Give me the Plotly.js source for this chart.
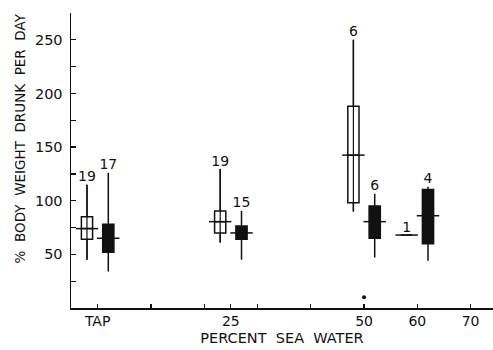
<!DOCTYPE html>
<html>
<head>
<meta charset="utf-8">
<script src="https://cdn.plot.ly/plotly-3.0.1.min.js"></script>
<style>html,body{margin:0;padding:0;background:#fff;}#chart{width:493px;height:350px;}</style>
</head>
<body>
<div id="chart"></div>
<script>
// Group positions on the "percent sea water" axis (TAP = 0)
const groupX = [0, 25, 50, 60];
const tickVals = [0, 10, 20, 25, 30, 40, 50, 60, 70];
const tickText = ['TAP', '', '', '25', '', '', '50', '60', '70'];
const yTickVals = [25, 50, 75, 100, 125, 150, 175, 200, 225, 250];
const yTickText = ['', '50', '', '100', '', '150', '', '200', '', '250'];

// Open boxes
const openN     = [19, 19, 6, 1];
const openLow   = [45, 61, 90, 68];
const openQ1    = [64, 70, 98, 68];
const openMed   = [74, 80.5, 142.5, 68];
const openQ3    = [85, 90.5, 188, 68];
const openHigh  = [115, 129.5, 250, 68];

// Filled boxes
const fillN     = [17, 15, 6, 4];
const fillLow   = [34, 45, 47, 44];
const fillQ1    = [52, 64, 65, 60];
const fillMed   = [65, 70, 80.5, 86];
const fillQ3    = [78, 76.5, 95, 110.5];
const fillHigh  = [126, 90.5, 106.5, 113];

// Single outlying point
const outX = [50];
const outY = [10];

const OFF = 2, BOXW = 2.1, MEDHALF = 2.1;
const xOpen = groupX.map(v => v - OFF);
const xFill = groupX.map(v => v + OFF);

function segs(xs, halfw, ys) {
  const X = [], Y = [];
  xs.forEach((x, i) => { X.push(x - halfw, x + halfw, null); Y.push(ys[i], ys[i], null); });
  return {X, Y};
}
function vsegs(xs, lo, hi) {
  const X = [], Y = [];
  xs.forEach((x, i) => { X.push(x, x, null); Y.push(lo[i], hi[i], null); });
  return {X, Y};
}

const font = {family: 'DejaVu Sans, sans-serif', color: '#111'};
const traces = [];

traces.push({
  type: 'box', x: xOpen, q1: openQ1, median: openMed, q3: openQ3,
  lowerfence: openLow, upperfence: openHigh, width: BOXW, whiskerwidth: 0,
  fillcolor: '#ffffff', line: {color: '#111', width: 1.5}, boxpoints: false,
  hoverinfo: 'skip', showlegend: false
});
traces.push({
  type: 'box', x: xFill, q1: fillQ1, median: fillMed, q3: fillQ3,
  lowerfence: fillLow, upperfence: fillHigh, width: BOXW, whiskerwidth: 0,
  fillcolor: '#111', line: {color: '#111', width: 1.5}, boxpoints: false,
  hoverinfo: 'skip', showlegend: false
});
const wo = vsegs(xOpen, openLow, openHigh);
traces.push({type: 'scatter', mode: 'lines', x: wo.X, y: wo.Y, line: {color: '#111', width: 1.2}, showlegend: false, hoverinfo: 'skip'});
const mo = segs(xOpen, MEDHALF, openMed);
traces.push({type: 'scatter', mode: 'lines', x: mo.X, y: mo.Y, line: {color: '#111', width: 1.5}, showlegend: false, hoverinfo: 'skip'});
const mf = segs(xFill, MEDHALF, fillMed);
traces.push({type: 'scatter', mode: 'lines', x: mf.X, y: mf.Y, line: {color: '#111', width: 1.5}, showlegend: false, hoverinfo: 'skip'});
traces.push({type: 'scatter', mode: 'text', x: xOpen, y: openHigh, text: openN.map(String),
  textposition: 'top center', textfont: Object.assign({size: 14}, font), showlegend: false, hoverinfo: 'skip'});
traces.push({type: 'scatter', mode: 'text', x: xFill, y: fillHigh, text: fillN.map(String),
  textposition: 'top center', textfont: Object.assign({size: 14}, font), showlegend: false, hoverinfo: 'skip'});
traces.push({type: 'scatter', mode: 'markers', x: outX, y: outY, marker: {color: '#111', size: 4},
  showlegend: false, hoverinfo: 'skip'});

const layout = {
  width: 493, height: 350,
  margin: {l: 71, r: 0, t: 13, b: 42},
  paper_bgcolor: '#fff', plot_bgcolor: '#fff',
  showlegend: false, boxmode: 'overlay',
  font: Object.assign({size: 14}, font),
  xaxis: {
    range: [-5, 74.2], showgrid: false, zeroline: false,
    showline: true, linecolor: '#111', linewidth: 1.5,
    ticks: 'inside', ticklen: 4, tickwidth: 1.2, tickcolor: '#111',
    tickmode: 'array', tickvals: tickVals, ticktext: tickText,
    tickfont: Object.assign({size: 14}, font), ticklabelstandoff: 0,
    title: {text: 'PERCENT\u00a0\u00a0SEA\u00a0\u00a0WATER', font: Object.assign({size: 14.5}, font), standoff: 4}
  },
  yaxis: {
    range: [0, 275], showgrid: false, zeroline: false,
    showline: true, linecolor: '#111', linewidth: 1.5,
    ticks: 'inside', ticklen: 5, tickwidth: 1.2, tickcolor: '#111',
    tickmode: 'array', tickvals: yTickVals, ticktext: yTickText,
    tickfont: Object.assign({size: 14.5}, font), ticklabelstandoff: 4
  },
  annotations: [{
    text: '%\u00a0\u00a0BODY\u00a0\u00a0WEIGHT\u00a0\u00a0DRUNK\u00a0\u00a0PER\u00a0\u00a0DAY',
    textangle: -90, xref: 'paper', yref: 'paper', x: 0, y: 0.575,
    xanchor: 'center', yanchor: 'middle', xshift: -51, showarrow: false,
    font: Object.assign({size: 13.5}, font)
  }]
};

Plotly.newPlot('chart', traces, layout, {displayModeBar: false, staticPlot: true});
</script>
</body>
</html>
